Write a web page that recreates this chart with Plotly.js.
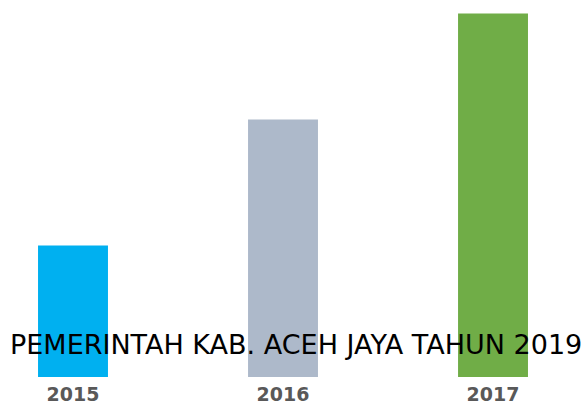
<!DOCTYPE html>
<html>
<head>
<meta charset="utf-8">
<script src="https://cdn.plot.ly/plotly-3.0.1.min.js"></script>
<style>
html,body{margin:0;padding:0;background:#fff;}
#chart{width:585px;height:407px;}
</style>
</head>
<body>
<div id="chart"></div>
<script>
const categories = ["2015", "2016", "2017"];
const values = [36.2, 70.8, 100];
const barColors = ["#00B0F0", "#ADB9CA", "#70AD47"];
const overlayText = "PEMERINTAH KAB. ACEH JAYA TAHUN 2019";

const trace = {
  type: "bar",
  x: categories,
  y: values,
  marker: {color: barColors},
  width: 0.333,
  hoverinfo: "none"
};

const layout = {
  width: 585,
  height: 407,
  margin: {l: 0, r: 0, t: 0, b: 30, pad: 0},
  paper_bgcolor: "#ffffff",
  plot_bgcolor: "#ffffff",
  showlegend: false,
  xaxis: {
    type: "category",
    range: [-0.3476, 2.438],
    showgrid: false,
    zeroline: false,
    showline: false,
    ticks: "",
    ticklabelstandoff: 4,
    tickfont: {family: "DejaVu Sans", size: 19, color: "#595959", weight: "bold"}
  },
  yaxis: {
    range: [0, 103.7],
    visible: false,
    showgrid: false,
    zeroline: false
  },
  annotations: [{
    text: overlayText,
    xref: "paper", yref: "paper",
    x: 296/585, y: (377 - 344)/377,
    xanchor: "center", yanchor: "middle",
    showarrow: false,
    font: {family: "DejaVu Sans", size: 27, color: "#000000"}
  }]
};

Plotly.newPlot("chart", [trace], layout, {displayModeBar: false, staticPlot: true});
</script>
</body>
</html>
